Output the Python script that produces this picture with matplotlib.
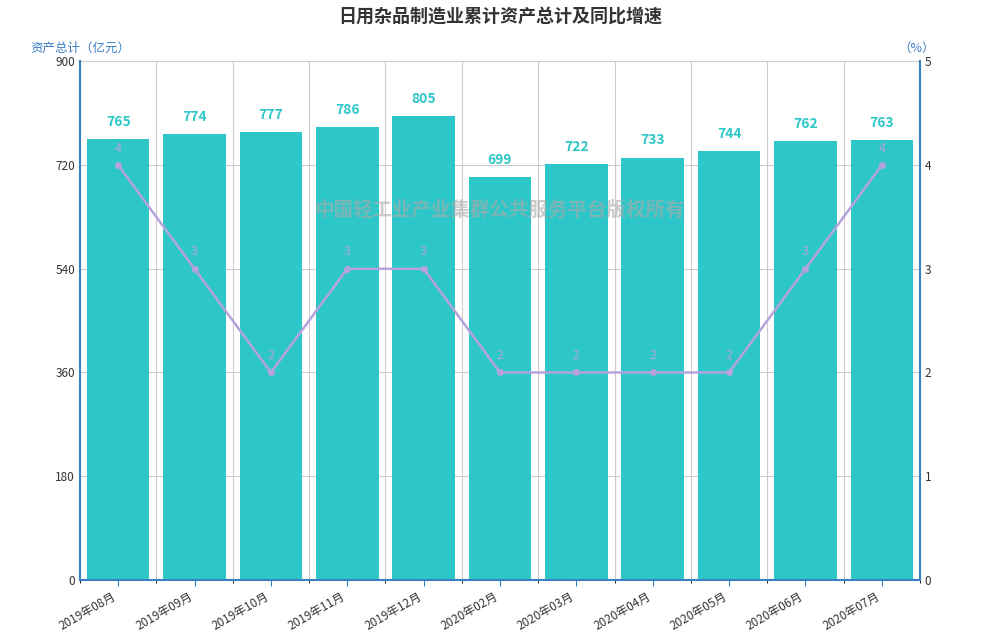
import matplotlib.pyplot as plt
import numpy as np

plt.rcParams['font.family'] = ['Noto Sans CJK SC', 'DejaVu Sans']

months = ['2019年08月', '2019年09月', '2019年10月', '2019年11月', '2019年12月',
          '2020年02月', '2020年03月', '2020年04月', '2020年05月', '2020年06月', '2020年07月']
assets = [765, 774, 777, 786, 805, 699, 722, 733, 744, 762, 763]
growth = [4, 3, 2, 3, 3, 2, 2, 2, 2, 3, 4]

bar_color = '#2EC7C9'
line_color = '#B6A2DE'
axis_color = '#3A7FC1'

fig = plt.figure(figsize=(10, 6.4), dpi=100)
ax = fig.add_axes([0.08, 0.094, 0.84, 0.81])
x = np.arange(len(months))

ax.bar(x, assets, width=0.82, color=bar_color, zorder=2)
for xi, v in zip(x, assets):
    ax.text(xi, v + 18, str(v), ha='center', va='bottom', color=bar_color,
            fontsize=10, fontweight='bold')

ax.set_xlim(-0.5, len(months) - 0.5)
ax.set_ylim(0, 900)
ax.set_yticks(range(0, 901, 180))
ax.set_xticks(x)
ax.set_xticklabels(months, rotation=30, ha='right', fontsize=8.5, color='#333333')
ax.tick_params(axis='y', labelsize=8.5, colors='#333333', length=0)
ax.tick_params(axis='x', length=4, colors=axis_color, labelcolor='#333333')
ax.set_xticks(np.arange(-0.5, len(months)), minor=True)
ax.grid(axis='y', color='#cccccc', linewidth=0.8, zorder=0)
ax.grid(axis='x', which='minor', color='#cccccc', linewidth=0.8, zorder=0)
for s in ['top', 'right']:
    ax.spines[s].set_visible(False)
ax.spines['left'].set_color(axis_color)
ax.spines['left'].set_linewidth(1.5)
ax.spines['bottom'].set_color(axis_color)
ax.spines['bottom'].set_linewidth(1.5)

ax2 = ax.twinx()
ax2.plot(x, growth, color=line_color, linewidth=1.8, marker='o', markersize=4, zorder=3)
for xi, v in zip(x, growth):
    ax2.text(xi, v + 0.1, str(v), ha='center', va='bottom', color=line_color, fontsize=9)
ax2.set_ylim(0, 5)
ax2.set_yticks(range(0, 6))
ax2.tick_params(axis='y', labelsize=8.5, colors='#333333', length=0)
for s in ['top', 'left', 'bottom']:
    ax2.spines[s].set_visible(False)
ax2.spines['right'].set_color(axis_color)
ax2.spines['right'].set_linewidth(1.5)

fig.text(0.5, 0.975, '日用杂品制造业累计资产总计及同比增速', ha='center', va='center',
         fontsize=13, fontweight='bold', color='#333333')
fig.text(0.03, 0.925, '资产总计（亿元）', ha='left', va='center', fontsize=9, color=axis_color)
fig.text(0.935, 0.925, '（%）', ha='right', va='center', fontsize=9, color=axis_color)
fig.text(0.5, 0.672, '中国轻工业产业集群公共服务平台版权所有', ha='center', va='center',
         fontsize=14, color='#aaaaaa', alpha=0.6, fontweight='bold')

fig.savefig('out.png', dpi=100)
